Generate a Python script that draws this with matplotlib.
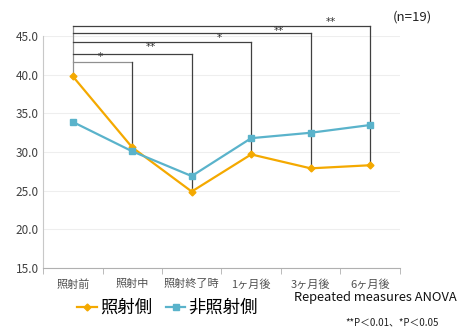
import numpy as np
import matplotlib
matplotlib.use('Agg')
import matplotlib.pyplot as plt

plt.rcParams['font.family'] = ['Noto Sans CJK JP', 'DejaVu Sans']

# data
categories = ['照射前', '照射中', '照射終了時', '1ヶ月後', '3ヶ月後', '6ヶ月後']
irradiated = [39.8, 30.6, 24.9, 29.7, 27.9, 28.3]
non_irradiated = [33.9, 30.1, 26.9, 31.8, 32.5, 33.5]
bracket_ends = [1, 2, 3, 4, 5]
bracket_heights = [41.7, 42.7, 44.2, 45.35, 46.3]
star_labels = ['*', '**', '*', '**', '**']
star_x = [0.47, 1.31, 2.47, 3.46, 4.34]
star_y = [42.3, 43.6, 44.75, 45.65, 46.8]

orange = '#F4A900'
blue = '#5AB3CB'

fig = plt.figure(figsize=(4.58, 3.31), dpi=100)
ax = fig.add_axes([0.094, 0.19, 0.779, 0.701])

x = np.arange(len(categories))
ax.plot(x, irradiated, color=orange, lw=1.6, marker='D', ms=3.5, label='照射側')
ax.plot(x, non_irradiated, color=blue, lw=1.6, marker='s', ms=4.5, label='非照射側')

ax.set_xlim(-0.5, 5.5)
ax.set_ylim(15, 45)
ax.set_yticks(np.arange(15, 46, 5))
ax.set_yticklabels([f'{v:.1f}' for v in np.arange(15, 46, 5)], fontsize=8.5, color='#404040')
ax.set_xticks(x)
ax.set_xticklabels(categories, fontsize=8, color='#505050')
ax.set_xticks(np.arange(-0.5, 6, 1), minor=True)
ax.tick_params(axis='x', which='major', length=0, pad=8)
ax.tick_params(axis='x', which='minor', length=4, color='#b0b0b0')
ax.tick_params(axis='y', length=0, pad=3)
ax.grid(axis='y', color='#eeeeee', lw=0.8)
ax.set_axisbelow(True)
for s in ['top', 'right']:
    ax.spines[s].set_visible(False)
ax.spines['left'].set_color('#c8c8c8')
ax.spines['bottom'].set_color('#b0b0b0')

# significance brackets
top = max(bracket_heights)
ax.plot([0, 0], [irradiated[0], top], color='#909090', lw=0.9, clip_on=False, zorder=1)
for i, (end, h) in enumerate(zip(bracket_ends, bracket_heights)):
    c = '#909090' if i == 0 else '#404040'
    ax.plot([0, end], [h, h], color=c, lw=0.9, clip_on=False, zorder=1)
    ax.plot([end, end], [h, min(irradiated[end], non_irradiated[end])],
            color='#404040', lw=0.9, clip_on=False, zorder=1)
for sx, sy, lab in zip(star_x, star_y, star_labels):
    ax.text(sx, sy, lab, fontsize=7.5, ha='center', va='center', color='#333333',
            family='DejaVu Sans')

fig.text(0.857, 0.938, '(n=19)', fontsize=9.5, color='#222222')
fig.text(0.998, 0.09, 'Repeated measures ANOVA', fontsize=9.3, color='#111111', ha='right')
fig.text(0.753, 0.018, '**P＜0.01、*P＜0.05', fontsize=7, style='italic', color='#222222')

fig.legend(loc='lower left', bbox_to_anchor=(0.135, -0.005), ncol=2, frameon=False,
           handlelength=1.1, handletextpad=0.2, columnspacing=0.8,
           prop={'size': 12.5})

fig.savefig('out.png', dpi=100)
